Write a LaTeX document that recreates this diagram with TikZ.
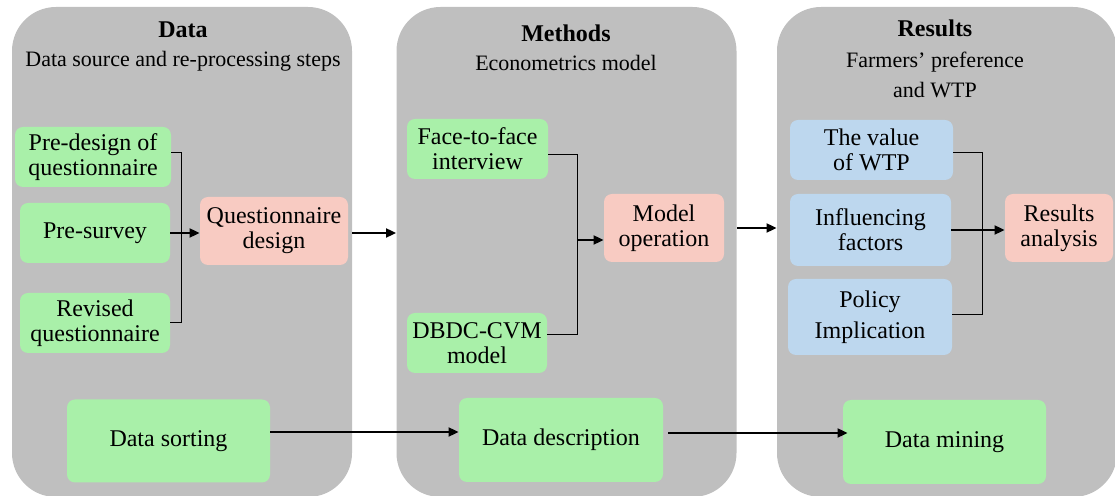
\documentclass[tikz,border=0pt]{standalone}
\usepackage{fontspec}
\setmainfont{Liberation Serif}
\usetikzlibrary{arrows.meta,positioning}
\definecolor{panelgray}{RGB}{191,191,191}
\definecolor{boxgreen}{RGB}{169,240,169}
\definecolor{boxpink}{RGB}{248,203,194}
\definecolor{boxblue}{RGB}{189,215,238}

\begin{document}
\begin{tikzpicture}[
    x=0.5pt, y=-0.5pt,
    font=\fontsize{12}{12.5}\selectfont,
    panel/.style={fill=panelgray, rounded corners=22pt, inner sep=0pt,
                  minimum width=170pt, minimum height=245pt},
    ttl/.style={font=\fontsize{12}{14}\selectfont\bfseries},
    sub/.style={font=\fontsize{11}{15}\selectfont, align=center},
    gbox/.style={fill=boxgreen, rounded corners=4pt, align=center, inner sep=2pt},
    pbox/.style={fill=boxpink, rounded corners=4pt, align=center, inner sep=2pt},
    bbox/.style={fill=boxblue, rounded corners=4pt, align=center, inner sep=2pt},
    link/.style={line width=0.5pt},
    arr/.style={-{Triangle[length=5pt,width=4.5pt]}, line width=0.9pt}
  ]
  \useasboundingbox (0,0) rectangle (1115,496);
  % three stages
  \node[panel] (p1) at (182,252) {};
  \node[panel] (p2) at (566.5,252) {};
  \node[panel] (p3) at (947,252) {};
  \node[ttl] (t1) at (183,30) {Data};
  \node[sub] (s1) at (183,61) {Data source and re-processing steps};
  \node[ttl] (t2) at (566,33) {Methods};
  \node[sub] (s2) at (566,63) {Econometrics model};
  \node[ttl] (t3) at (935,28) {Results};
  \node[sub] (s3) at (935,75) {Farmers' preference\\and WTP};
  % data
  \node[gbox, minimum width=78pt, minimum height=30pt] (d1) at (93,157) {Pre-design of\\questionnaire};
  \node[gbox, minimum width=75pt, minimum height=30pt] (d2) at (95,233) {Pre-survey};
  \node[gbox, minimum width=75pt, minimum height=30pt] (d3) at (95,323) {Revised\\questionnaire};
  \node[pbox, minimum width=74pt, minimum height=34pt] (d4) at (274,231) {Questionnaire\\design};
  \node[gbox, minimum width=101.5pt, minimum height=41.5pt] (d5) at (168.5,441) {Data sorting};
  % methods
  \node[gbox, minimum width=70.5pt, minimum height=30pt] (m1) at (477.5,149) {Face-to-face\\interview};
  \node[gbox, minimum width=70pt, minimum height=30pt] (m2) at (477,343) {DBDC-CVM\\model};
  \node[pbox, minimum width=60pt, minimum height=34pt] (m3) at (664,228) {Model\\operation};
  \node[gbox, minimum width=102pt, minimum height=42pt] (m4) at (561,440) {Data description};
  % results
  \node[bbox, minimum width=81.5pt, minimum height=30pt] (r1) at (871.5,150) {The value\\of WTP};
  \node[bbox, minimum width=80.5pt, minimum height=36pt] (r2) at (870.5,230) {Influencing\\factors};
  \node[bbox, minimum width=82pt, minimum height=38pt] (r3) at (870,317) {Policy\\[3pt]Implication};
  \node[pbox, minimum width=54pt, minimum height=34pt] (r4) at (1059,228) {Results\\analysis};
  \node[gbox, minimum width=101.5pt, minimum height=42pt] (r5) at (944.5,442) {Data mining};
  % connectors
  \draw[link] ([yshift=2pt]d1.east) -- ++(10,0) |- (d3.east);
  \draw[arr] (d2.east) -- (d2.east -| d4.west);
  \draw[link] ([yshift=-3pt]m1.east) -- ++(29,0) |- ([yshift=4pt]m2.east);
  \coordinate (mj) at (577,240);
  \draw[arr] (mj) -- (mj -| m3.west);
  \draw[link] ([yshift=-1.5pt]r1.east) -- ++(29,0) |- ([yshift=1pt]r3.east);
  \draw[arr] (r2.east) -- (r2.east -| r4.west);
  \draw[arr] (p1.east |- d2) -- (p2.west |- d2);
  \draw[arr] (p2.east |- m3) -- (p3.west |- m3);
  \draw[arr] ([yshift=4.5pt]d5.east) -- ([yshift=4.5pt]d5.east -| m4.west);
  \draw[arr] ([xshift=2.5pt,yshift=3.5pt]m4.east) -- ([xshift=2.5pt,yshift=3.5pt]m4.east -| r5.west);
\end{tikzpicture}
\end{document}
